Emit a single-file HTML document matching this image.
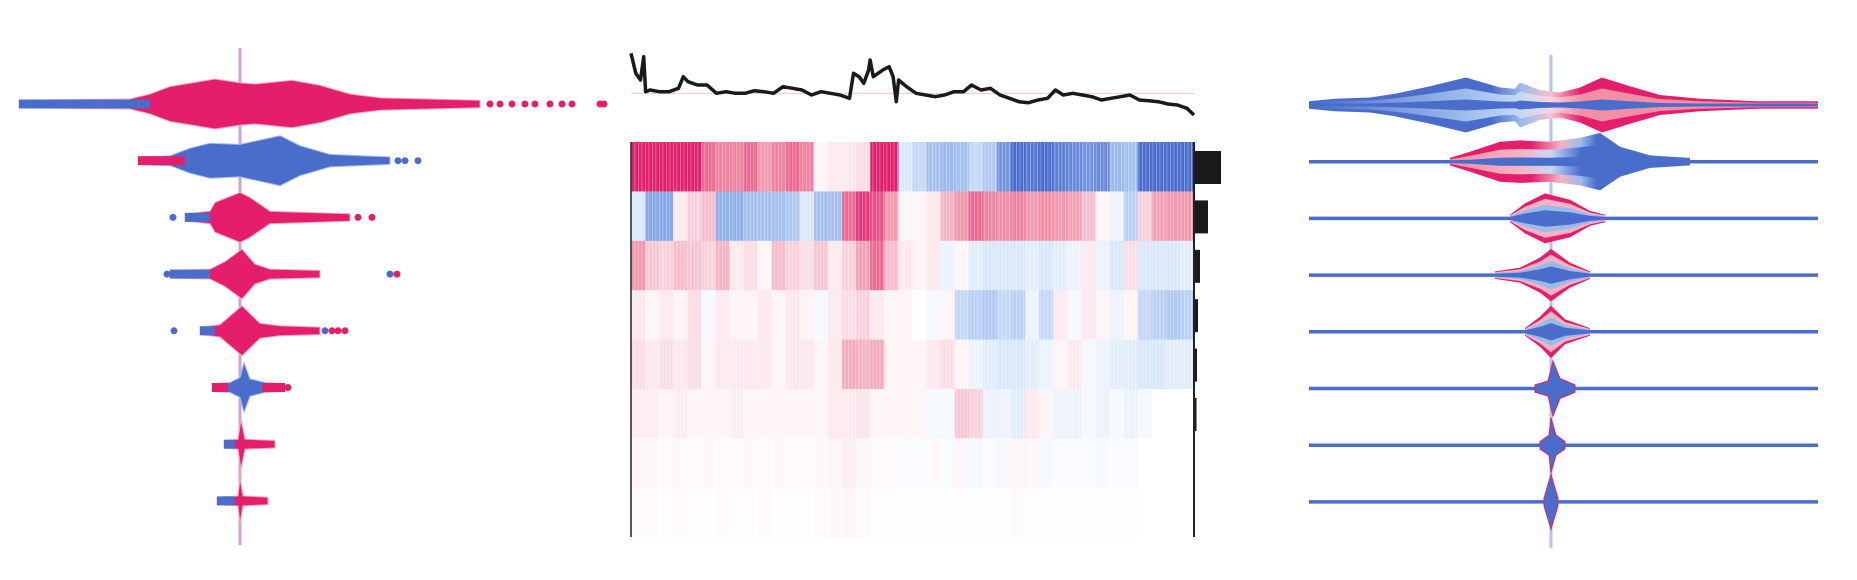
<!DOCTYPE html>
<html><head><meta charset="utf-8"><style>
html,body{margin:0;padding:0;background:#fff;}
svg{display:block;}
</style></head><body>
<svg id="chart" width="1857" height="580" viewBox="0 0 1857 580" xmlns="http://www.w3.org/2000/svg"></svg>
<script>
// ---------- DATA ----------
const leftProfiles = [
 [[-2.21,3],[-1.1,4],[-0.9,8],[-0.7,14],[-0.4,18],[-0.25,20],[0,17],[0.15,16],[0.52,19],[0.8,15],[1.1,8],[1.4,5],[2.4,3]],
 [[-1.02,3],[-0.7,4],[-0.5,10],[-0.3,14],[0,13],[0.4,20],[0.6,12],[0.9,5],[1.5,3]],
 [[-0.55,3],[-0.3,5],[-0.25,12],[0,20],[0.1,16],[0.3,5],[1.1,3]],
 [[-0.7,3],[-0.3,4],[-0.15,10],[0.02,20],[0.15,8],[0.3,4],[0.8,3]],
 [[-0.4,3],[-0.2,5],[0.02,20],[0.2,6],[0.4,4],[0.8,3]],
 [[-0.28,3],[-0.1,4],[0,8],[0.04,20],[0.1,7],[0.25,4],[0.45,3]],
 [[-0.16,3],[-0.02,4],[0.01,20],[0.05,4],[0.35,3]],
 [[-0.23,3],[-0.02,4],[0,18],[0.03,4],[0.28,3]]
];
const leftMainColor = ['pink','blue','pink','pink','pink','blue','pink','pink'];
const leftOverlays = [
 [[-2.21,-0.9,'blue']],
 [[-1.02,-0.55,'pink']],
 [[-0.55,-0.3,'blue']],
 [[-0.7,-0.3,'blue']],
 [[-0.4,-0.25,'blue']],
 [[-0.28,-0.12,'pink'],[0.22,0.45,'pink']],
 [[-0.16,-0.05,'blue']],
 [[-0.23,-0.05,'blue']]
];
const leftDots = [
 [[-2.15,'blue'],[2.5,'pink'],[2.6,'pink'],[2.72,'pink'],[2.85,'pink'],[2.95,'pink'],[3.1,'pink'],[3.22,'pink'],[3.32,'pink'],[3.6,'pink'],[3.64,'pink']],
 [[1.58,'blue'],[1.65,'blue'],[1.78,'blue']],
 [[-0.67,'blue'],[1.18,'pink'],[1.32,'pink']],
 [[-0.73,'blue'],[1.5,'blue'],[1.57,'pink']],
 [[-0.66,'blue'],[0.85,'blue'],[0.92,'pink'],[0.98,'pink'],[1.05,'pink']],
 [[0.48,'pink']],
 [],
 []
];
const lineT = [28,40,52,60,65,76,100,124,148,160,172,196,220,244,268,292,316,340,364,388,412,436,460,484,508,532,556,580,590,604,616,628,632,640,652,664,680,690,698,704,724,748,772,796,820,844,868,888,912,936,960,984,1008,1032,1056,1080,1100,1120,1144,1168,1192,1216,1240,1264,1288,1312,1336,1360,1384,1408,1432,1450];
const lineV = [190,130,110,180,75,80,75,75,85,120,105,95,95,70,75,70,70,78,75,70,90,85,80,65,75,70,65,55,130,120,100,140,170,120,130,140,150,120,45,110,90,70,65,60,65,75,75,95,80,85,65,55,45,42,50,55,80,65,70,65,60,50,55,60,65,50,48,45,38,35,25,5];
const heatRows = [
 [1,1,1,1,1,0.7,0.6,0.6,0.7,0.5,0.6,0.7,0.6,0.05,0.1,0.1,0.15,1,1,-0.2,-0.3,-0.45,-0.5,-0.45,-0.3,-0.4,-0.7,-0.9,-0.85,-0.9,-0.8,-0.75,-0.7,-0.75,-0.5,-0.45,-0.9,-0.9,-0.9,-0.9],
 [-0.2,-0.6,-0.6,0.1,0.2,0.3,-0.55,-0.55,-0.45,-0.45,-0.45,-0.4,-0.2,-0.45,-0.45,0.7,0.9,0.8,0.5,0.05,0.05,0.1,0.35,0.5,0.7,0.6,0.55,0.6,0.5,0.55,0.5,0.45,0.3,0.05,-0.1,-0.35,0.2,0.45,0.5,0.5],
 [0.5,0.25,0.2,0.3,0.25,0.2,0.35,0.1,0.15,0.05,0.3,0.2,0.15,0.25,0.1,0.2,0.45,0.7,0.3,0.1,0.05,0.1,-0.1,0.05,-0.15,-0.2,-0.2,-0.2,-0.15,-0.2,-0.15,-0.1,0.1,-0.1,-0.2,0.15,-0.2,-0.2,-0.2,-0.15],
 [0.1,0.05,0.1,0.05,0.15,-0.05,0.1,0.05,0.05,0.1,0.05,0.1,0.05,-0.05,0.1,0.15,0.2,0.1,0.05,0.05,0,-0.05,0.05,-0.3,-0.35,-0.4,-0.3,-0.35,-0.1,-0.3,0.1,-0.05,0.1,0.05,-0.1,0.05,-0.3,-0.35,-0.4,-0.35],
 [0.15,0.1,0.15,0.1,0.15,0.05,0.1,0.1,0.1,0.1,0.05,0.1,0.1,0.05,0.1,0.4,0.35,0.4,0.05,0.05,0.05,0.1,0.15,0.05,-0.1,-0.15,-0.2,-0.2,-0.15,-0.1,0.05,0.1,-0.05,-0.1,-0.15,-0.15,-0.2,-0.2,-0.15,-0.15],
 [0.08,0.08,0.05,0.08,0.05,0.05,0.05,0.08,0.05,0.05,0.05,0.05,0.05,0.05,0.1,0.1,0.12,0.05,0.05,0.05,0.05,-0.05,-0.05,0.25,0.2,-0.1,-0.1,-0.15,0.1,0.05,-0.1,-0.1,-0.05,-0.1,-0.05,-0.1,-0.05,0,0,0],
 [0.03,0.03,0.02,0.03,0.02,0.03,0.02,0.02,0.03,0.02,0.03,0.02,0.02,0.03,0.05,0.08,0.03,0.02,0.02,-0.03,-0.03,0.02,-0.03,0.03,-0.05,-0.03,-0.05,0.05,0.03,-0.05,-0.03,-0.03,-0.03,-0.05,-0.03,-0.03,0,0,0,0],
 [0.02,0.02,0.01,0.02,0.01,0.01,0.02,0.01,0.01,0.02,0.01,0.01,0.01,0.02,0.03,0.05,0.02,0.01,0.01,-0.02,-0.02,0.01,-0.02,0.01,-0.02,-0.02,-0.02,0.02,0.01,-0.02,-0.02,-0.02,-0.01,-0.02,-0.01,-0.01,0,0,0,0]
];
const importance = [27,14,6,4,3,2.5,1,1];
const rightProfiles = [
 [[-2.42,3],[-2.16,5],[-1.81,6],[-1.56,9],[-1.21,15],[-0.85,22],[-0.51,14],[-0.36,13],[-0.31,18],[-0.11,12],[0.09,10],[0.29,14],[0.51,22],[0.79,15],[1.09,8],[1.49,5],[2.06,3],[2.67,3]],
 [[-1.01,3],[-0.81,8],[-0.51,16],[-0.31,17],[-0.01,16],[0.29,19],[0.49,23],[0.69,12],[0.99,5],[1.39,3]],
 [[-0.41,3],[-0.26,12],[-0.06,20],[0.19,15],[0.39,6],[0.54,3]],
 [[-0.56,3],[-0.31,6],[-0.11,14],[0,21],[0.19,10],[0.39,3]],
 [[-0.26,3],[-0.11,12],[0,21],[0.14,10],[0.39,3]],
 [[-0.16,3],[-0.03,6],[0.02,22],[0.09,8],[0.24,3]],
 [[-0.11,3],[-0.02,8],[0,22],[0.05,8],[0.14,3]],
 [[-0.07,3],[0,22],[0.07,3]]
];
// gradient stops [value, color] for outer and inner layers
const rightOuterStops = [
 [[-2.42,'#4a6dcc'],[-0.6,'#4a6dcc'],[-0.3,'#9bbaeb'],[0,'#f5c2cf'],[0.3,'#e41e6b'],[2.67,'#e41e6b']],
 [[-1.01,'#e41e6b'],[-0.2,'#e41e6b'],[0.1,'#f5b3c3'],[0.3,'#9bbaeb'],[0.45,'#4a6dcc'],[1.39,'#4a6dcc']]
];
const rightInnerStops = [
 [[-2.42,'#4a6dcc'],[-0.9,'#9bbaeb'],[-0.3,'#c6d8f6'],[0,'#f8d6df'],[0.3,'#f08fa6'],[2.67,'#f08fa6']],
 [[-1.01,'#f08fa6'],[-0.3,'#f5b3c3'],[0,'#c6d8f6'],[0.3,'#4a6dcc'],[1.39,'#4a6dcc']]
];

// ---------- SCALES ----------
const PINK='#e41e6b', BLUE='#4a6dcc', H=1.25;
const rowY = i => 104 + i*56.7;
const xL = v => 240 + v*100;
const xR = v => 1551 + v*100;
const xT = t => 631 + (t-28)/(1450-28)*(1194-631);
const yLine = v => 30 + (260-v)/3;
const hmTop = 142, hmRowH = 49.4, hmX0 = 631, hmX1 = 1194;

const svg = document.getElementById('chart');
const NS='http://www.w3.org/2000/svg';
function mk(tag, attrs, parent){const e=document.createElementNS(NS,tag);for(const k in attrs)e.setAttribute(k,attrs[k]);(parent||svg).appendChild(e);return e;}
function violinPath(prof, xs, y, k){
  let top = prof.map(p=>xs(p[0]).toFixed(1)+','+(y-Math.max(p[1]*k*H,1.5)).toFixed(1));
  let bot = prof.slice().reverse().map(p=>xs(p[0]).toFixed(1)+','+(y+Math.max(p[1]*k*H,1.5)).toFixed(1));
  return 'M'+top.join(' L')+' L'+bot.join(' L')+'Z';
}
function heatColor(v){
  const pos=[[0,[255,255,255]],[0.25,[247,198,211]],[0.55,[240,143,166]],[1,[228,30,107]]];
  const neg=[[0,[255,255,255]],[0.2,[216,231,251]],[0.5,[154,184,236]],[0.9,[74,109,204]],[1.01,[74,109,204]]];
  const st=v>=0?pos:neg, a=Math.min(Math.abs(v),1);
  for(let i=1;i<st.length;i++){ if(a<=st[i][0]){const t=(a-st[i-1][0])/(st[i][0]-st[i-1][0]);const c=st[i-1][1].map((c0,j)=>Math.round(c0+(st[i][1][j]-c0)*t));return 'rgb('+c.join(',')+')';}}
  return 'rgb(74,109,204)';
}
const defs = mk('defs',{});
const pat = mk('pattern',{id:'stripes',width:7,height:10,patternUnits:'userSpaceOnUse'},defs);
mk('rect',{x:1,y:0,width:1,height:10,fill:'#fff','fill-opacity':0.35},pat);
mk('rect',{x:4,y:0,width:1.5,height:10,fill:'#fff','fill-opacity':0.2},pat);

// ---------- LEFT PANEL ----------
const gL = mk('g',{});


const axL = mk('line',{x1:240,x2:240,y1:48,y2:545,stroke:'#c9a6d6','stroke-width':3},gL);


leftProfiles.forEach((prof,i)=>{
  const y=rowY(i);
  const g=mk('g',{},gL);
  
  
  const col = leftMainColor[i]==='pink'?PINK:BLUE;
  mk('path',{d:violinPath(prof,xL,y,1),fill:col,stroke:col==PINK?'#f5a9bf':'#a9bdf0','stroke-width':1},g);
  leftOverlays[i].forEach(o=>{
    const hh=4.5;
    mk('rect',{x:xL(o[0]),y:y-hh,width:xL(o[1])-xL(o[0]),height:2*hh,fill:o[2]==='pink'?PINK:BLUE},g);
  });
  leftDots[i].forEach(d=>{
    const c=mk('circle',{cx:xL(d[0]),cy:y,r:3.5,fill:d[1]==='pink'?PINK:BLUE},g);
    
    
  });
});

// ---------- MIDDLE PANEL ----------
const gM = mk('g',{});


const base = mk('line',{x1:631,x2:1194,y1:yLine(70),y2:yLine(70),stroke:'#f3c6d3','stroke-width':1},gM);


const pts = lineT.map((t,i)=>xT(t).toFixed(1)+','+yLine(lineV[i]).toFixed(1)).join(' ');
const pl = mk('polyline',{points:pts,fill:'none',stroke:'#1a1a1a','stroke-width':3.5,'stroke-linejoin':'round'},gM);


heatRows.forEach((row,r)=>{
  const g=mk('g',{},gM);
  
  
  const w=(hmX1-hmX0)/row.length;
  row.forEach((v,c)=>{
    mk('rect',{x:(hmX0+c*w).toFixed(2),y:hmTop+r*hmRowH,width:(w+0.6).toFixed(2),height:hmRowH+0.5,fill:heatColor(v)},g);
  });
  const b=mk('rect',{x:hmX1,y:hmTop+r*hmRowH+9,width:importance[r],height:33,fill:'#1a1a1a'},gM);
  
  
});
mk('rect',{x:hmX0,y:hmTop,width:hmX1-hmX0,height:hmRowH*8,fill:'url(#stripes)'},gM);
const la=mk('line',{x1:631,x2:631,y1:hmTop,y2:537,stroke:'#222','stroke-width':1.5},gM);


const ra=mk('line',{x1:hmX1,x2:hmX1,y1:hmTop,y2:537,stroke:'#222','stroke-width':2},gM);



// ---------- RIGHT PANEL ----------
const gR = mk('g',{});


const axR=mk('line',{x1:1551,x2:1551,y1:55,y2:548,stroke:'#b7c3ea','stroke-width':3},gR);


function grad(id,stops,prof){
  const a=xR(prof[0][0]), b=xR(prof[prof.length-1][0]);
  const lg=mk('linearGradient',{id:id,gradientUnits:'userSpaceOnUse',x1:a,x2:b,y1:0,y2:0},defs);
  stops.forEach(s=>mk('stop',{offset:Math.min(1,Math.max(0,(xR(s[0])-a)/(b-a))),'stop-color':s[1]},lg));
}
rightProfiles.forEach((prof,i)=>{
  const y=rowY(i)+1;
  const g=mk('g',{},gR);
  
  
  const hl=mk('line',{x1:1309,x2:1818,y1:y,y2:y,stroke:BLUE,'stroke-width':i===0?4:3.5},g);
  
  
  if(i<2){
    grad('go'+i,rightOuterStops[i],prof);
    grad('gi'+i,rightInnerStops[i],prof);
    mk('path',{d:violinPath(prof,xR,y,1),fill:'url(#go'+i+')'},g);
    mk('path',{d:violinPath(prof,xR,y,0.6),fill:'url(#gi'+i+')'},g);
    mk('path',{d:violinPath(prof,xR,y,0.2),fill:BLUE},g);
  } else if(i<5){
    mk('path',{d:violinPath(prof,xR,y,1),fill:PINK},g);
    mk('path',{d:violinPath(prof,xR,y,0.78),fill:'#f5b3c3'},g);
    mk('path',{d:violinPath(prof,xR,y,0.55),fill:'#9bbaeb'},g);
    mk('path',{d:violinPath(prof,xR,y,0.33),fill:BLUE},g);
  } else {
    mk('path',{d:violinPath(prof,xR,y,1),fill:BLUE,stroke:PINK,'stroke-width':1},g);
  }
});
</script>
</body></html>
